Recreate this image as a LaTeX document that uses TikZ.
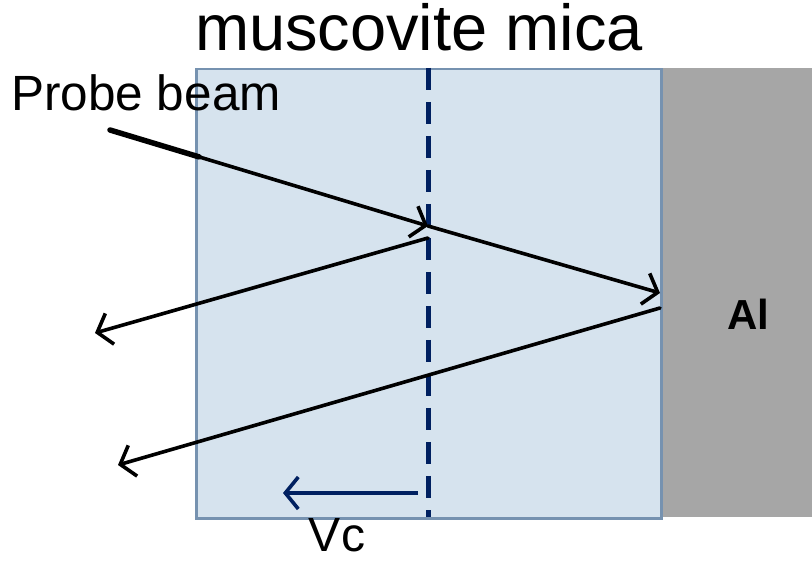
\documentclass[tikz,border=0pt]{standalone}
\usepackage{fontspec}
\setmainfont{Liberation Sans}
\usetikzlibrary{arrows.meta,calc}
\definecolor{micafill}{RGB}{214,227,238}
\definecolor{micaedge}{RGB}{118,146,176}
\definecolor{algray}{RGB}{166,166,166}
\definecolor{navy}{RGB}{0,32,96}
\begin{document}
\begin{tikzpicture}[x=1pt,y=-1pt,
  beam/.style={line width=3.6pt, line cap=round, -{Straight Barb[length=13pt,width=32pt,line width=3.6pt]}},
  lbl/.style={inner sep=0pt, anchor=base}]
\useasboundingbox (0,0) rectangle (812,561);
\fill[white] (0,0) rectangle (812,561);
% regions
\node[fill=algray, inner sep=0pt, minimum width=152pt, minimum height=449pt, anchor=north west] (al) at (660,68) {};
\node[draw=micaedge, fill=micafill, line width=2.5pt, inner sep=0pt, minimum width=465pt, minimum height=449pt, anchor=north west] (mica) at (195,68) {};
% dashed front
\coordinate (dtop) at (428,68);
\coordinate (dbot) at (428,517);
\draw[navy, line width=5pt, dash pattern=on 22pt off 12pt] (dtop) -- (dbot);
% texts
\node[lbl, font=\fontsize{65}{65}\selectfont] (title) at (419,51) {muscovite mica};
\node[lbl, font=\fontsize{49.5}{49.5}\selectfont, anchor=base west] (probe) at (11,111) {Probe beam};
\node[lbl, font=\bfseries\fontsize{42}{42}\selectfont] (altext) at (748,330) {Al};
\node[lbl, font=\fontsize{48}{48}\selectfont] (vc) at (337,551) {Vc};
% beams
\coordinate (src) at (110,130);
\coordinate (hit1) at (428,226);
\coordinate (hit2) at (660,293);
\coordinate (r1s) at (428,238);
\coordinate (r1e) at (95,333);
\coordinate (r2s) at (660,308);
\coordinate (r2e) at (118,465);
\draw[line width=5.5pt, line cap=round] (src) -- ($(src)!0.28!(hit1)$);
\draw[beam] (src) -- (hit1);
\draw[beam] (hit1) -- (hit2);
\draw[beam] (r1s) -- (r1e);
\draw[beam] (r2s) -- (r2e);
% velocity arrow
\coordinate (vstart) at (418,493);
\coordinate (vend) at (283,493);
\draw[navy, line width=3.6pt, -{Straight Barb[length=13pt,width=32pt,line width=3.6pt]}] (vstart) -- (vend);
\end{tikzpicture}
\end{document}
